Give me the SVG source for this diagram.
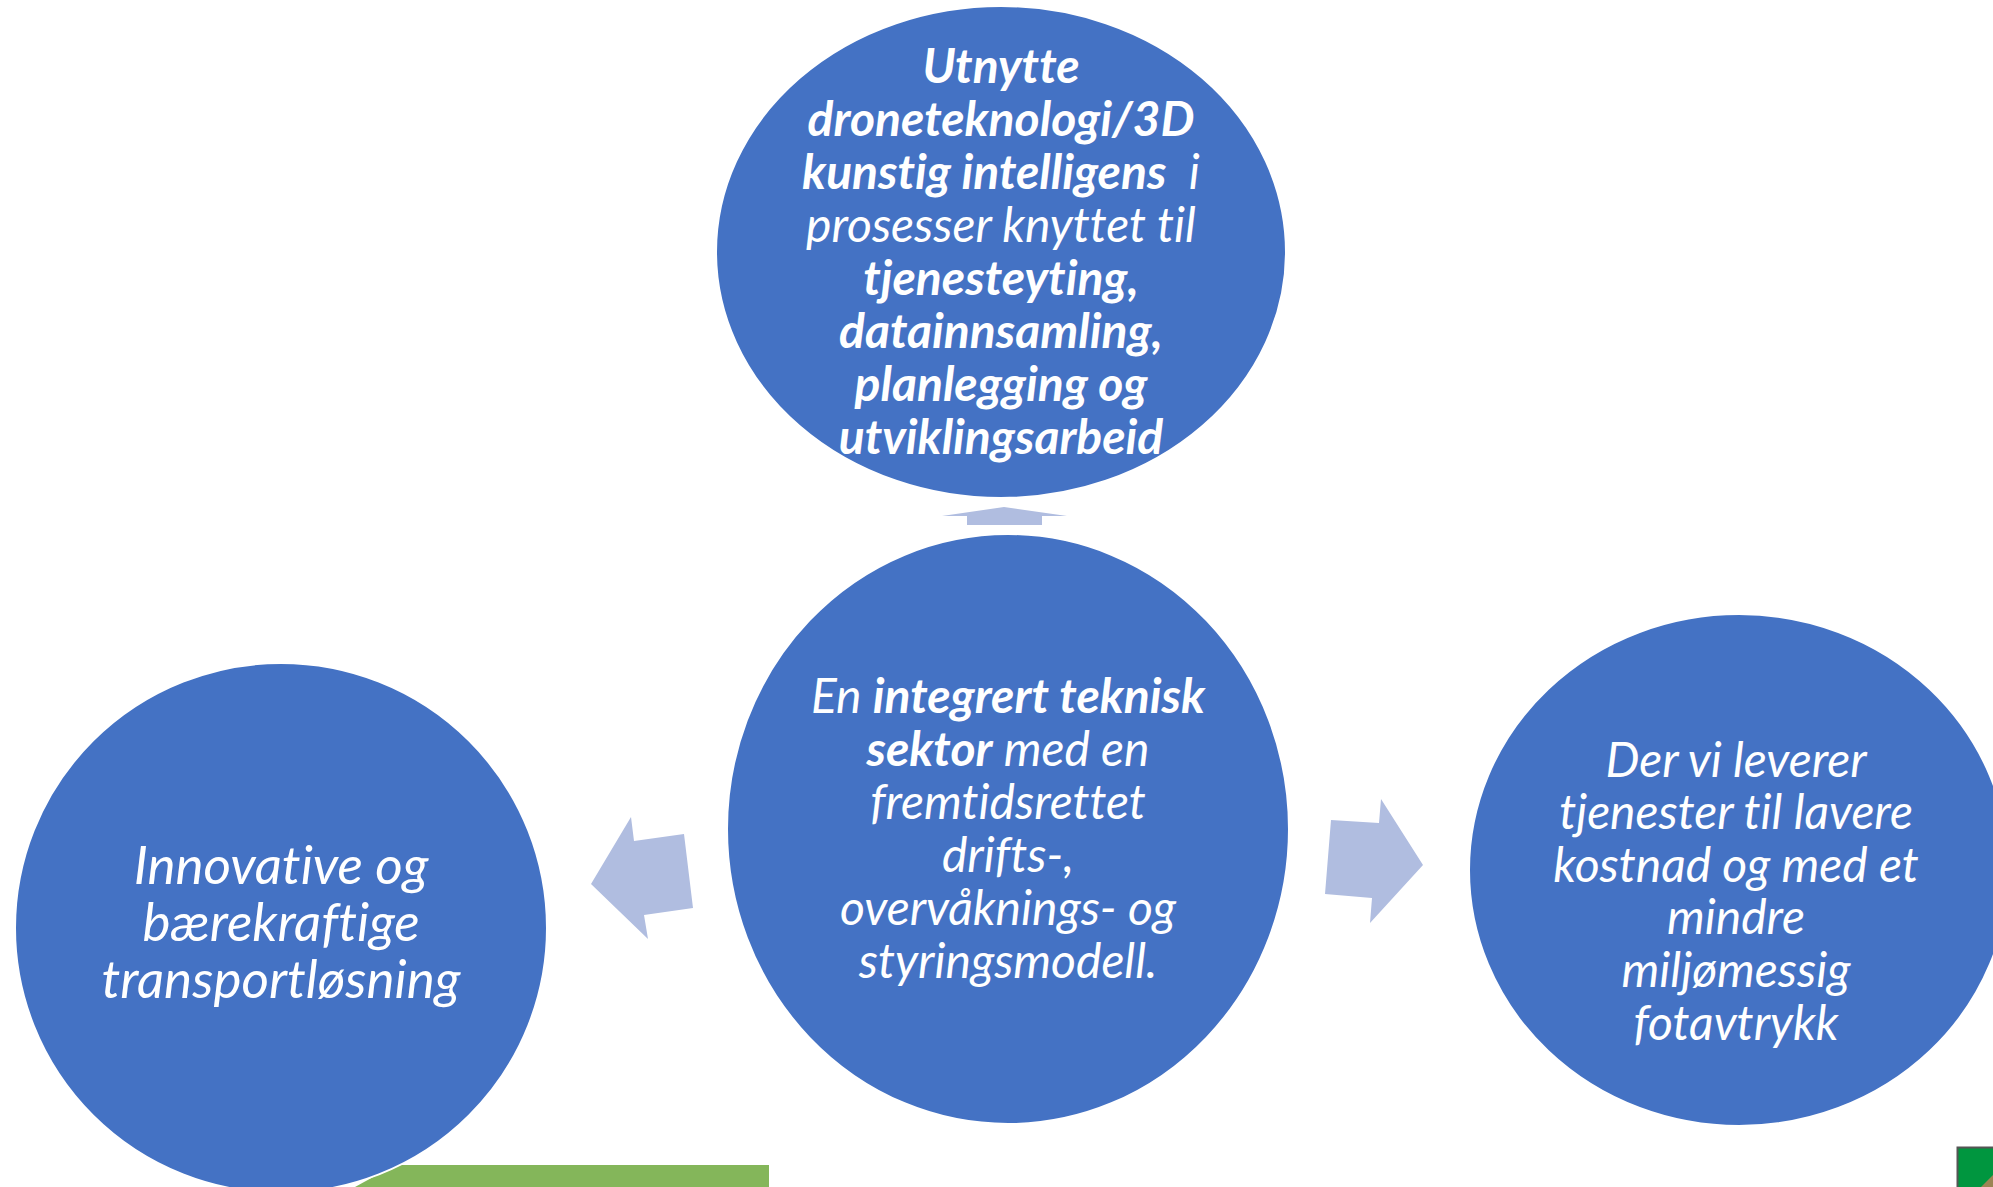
<svg xmlns="http://www.w3.org/2000/svg" width="1993" height="1187" viewBox="0 0 1993 1187">
<style>
.node{fill:#4472C4;stroke:#FFFFFF;stroke-width:2}
.arrow{fill:#B0BDE0}
.t{font-family:Lato,"Open Sans","Liberation Sans",sans-serif;font-style:italic;fill:#FFFFFF;text-anchor:middle;font-variant-ligatures:none;font-feature-settings:"liga" 0,"clig" 0,"dlig" 0}
.m{font-size:48px}
.l{font-size:53px}
.b{font-weight:bold}
</style>
<rect width="1993" height="1187" fill="#FFFFFF"/>
<g id="decor">
<polygon points="355,1187 395,1165 769,1165 769,1187" fill="#84B65A"/>
<rect x="1957.5" y="1147.5" width="40" height="45" fill="#00963F" stroke="#555555" stroke-width="2"/>
<polygon points="1981,1187 1993,1175 1993,1187" fill="#9C8554"/>
</g>
<g id="node-top">
<ellipse class="node" cx="1001" cy="252" rx="285" ry="246"/>
<text class="t m b" x="1001" y="83">Utnytte</text>
<text class="t m b" x="1001" y="136">droneteknologi/3D</text>
<text class="t m" x="1001" y="189" xml:space="preserve"><tspan class="b">kunstig intelligens</tspan>  i</text>
<text class="t m" x="1001" y="242">prosesser knyttet til</text>
<text class="t m b" x="1001" y="295">tjenesteyting,</text>
<text class="t m b" x="1001" y="348">datainnsamling,</text>
<text class="t m b" x="1001" y="401">planlegging og</text>
<text class="t m b" x="1001" y="454">utviklingsarbeid</text>
</g>
<g id="node-center">
<ellipse class="node" cx="1008" cy="829" rx="281" ry="295"/>
<text class="t m" x="1008" y="713">En <tspan class="b">integrert teknisk</tspan></text>
<text class="t m" x="1008" y="766"><tspan class="b">sektor</tspan> med en</text>
<text class="t m" x="1008" y="819">fremtidsrettet</text>
<text class="t m" x="1008" y="872">drifts-,</text>
<text class="t m" x="1008" y="925">overvåknings- og</text>
<text class="t m" x="1008" y="978">styringsmodell.</text>
</g>
<g id="node-left">
<ellipse class="node" cx="281" cy="928" rx="266" ry="265"/>
<text class="t l" x="281" y="884">Innovative og</text>
<text class="t l" x="281" y="941">bærekraftige</text>
<text class="t l" x="281" y="998">transportløsning</text>
</g>
<g id="node-right">
<ellipse class="node" cx="1739" cy="870" rx="270" ry="256"/>
<text class="t m" x="1736" y="777">Der vi leverer</text>
<text class="t m" x="1736" y="829">tjenester til lavere</text>
<text class="t m" x="1736" y="882">kostnad og med et</text>
<text class="t m" x="1736" y="934">mindre</text>
<text class="t m" x="1736" y="987">miljømessig</text>
<text class="t m" x="1736" y="1040">fotavtrykk</text>
</g>
<g id="connectors">
<polygon class="arrow" points="967,525 967,516 942,516 1004,507 1067,516 1042,516 1042,525"/>
<polygon class="arrow" points="591,884 631,817 634,841 684,834 693,908 644,915 648,939"/>
<polygon class="arrow" points="1331,820 1379,823 1381,799 1423,865 1370,923 1372,898 1325,894"/>
</g>
</svg>
